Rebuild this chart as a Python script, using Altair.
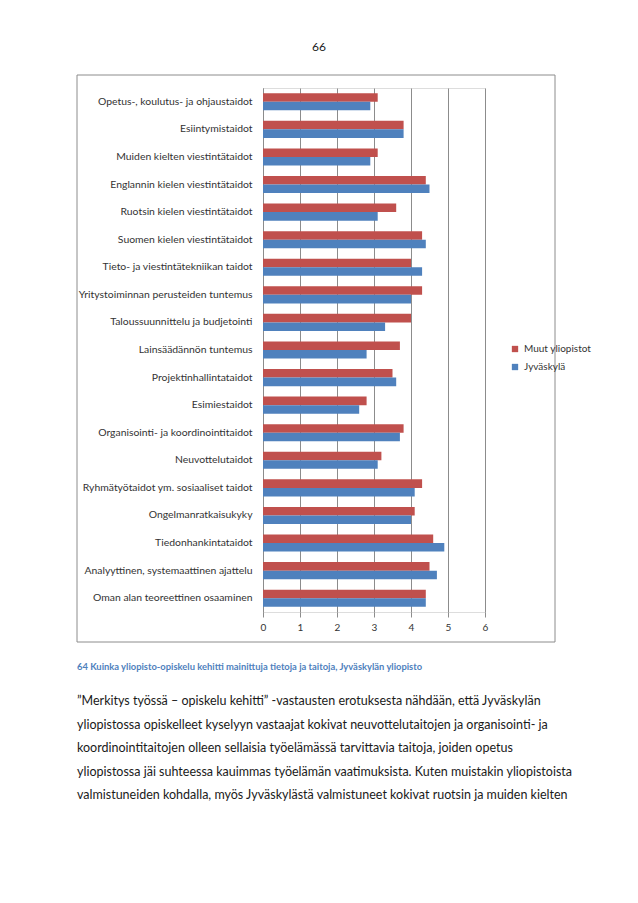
import altair as alt
import pandas as pd

categories = [
    "Opetus-, koulutus- ja ohjaustaidot",
    "Esiintymistaidot",
    "Muiden kielten viestintätaidot",
    "Englannin kielen viestintätaidot",
    "Ruotsin kielen viestintätaidot",
    "Suomen kielen viestintätaidot",
    "Tieto- ja viestintätekniikan taidot",
    "Yritystoiminnan perusteiden tuntemus",
    "Taloussuunnittelu ja budjetointi",
    "Lainsäädännön tuntemus",
    "Projektinhallintataidot",
    "Esimiestaidot",
    "Organisointi- ja koordinointitaidot",
    "Neuvottelutaidot",
    "Ryhmätyötaidot ym. sosiaaliset taidot",
    "Ongelmanratkaisukyky",
    "Tiedonhankintataidot",
    "Analyyttinen, systemaattinen ajattelu",
    "Oman alan teoreettinen osaaminen",
]
muut = [3.1, 3.8, 3.1, 4.4, 3.6, 4.3, 4.0, 4.3, 4.0, 3.7, 3.5, 2.8, 3.8, 3.2, 4.3, 4.1, 4.6, 4.5, 4.4]
jyvaskyla = [2.9, 3.8, 2.9, 4.5, 3.1, 4.4, 4.3, 4.0, 3.3, 2.8, 3.6, 2.6, 3.7, 3.1, 4.1, 4.0, 4.9, 4.7, 4.4]
series = ["Muut yliopistot", "Jyväskylä"]
colors = ["#C0504D", "#4F81BD"]
x_ticks = [0, 1, 2, 3, 4, 5, 6]

page_number = "66"
caption = "64 Kuinka yliopisto-opiskelu kehitti mainittuja tietoja ja taitoja, Jyväskylän yliopisto"
body_lines = [
    "”Merkitys työssä – opiskelu kehitti” -vastausten erotuksesta nähdään, että Jyväskylän",
    "yliopistossa opiskelleet kyselyyn vastaajat kokivat neuvottelutaitojen ja organisointi- ja",
    "koordinointitaitojen olleen sellaisia työelämässä tarvittavia taitoja, joiden opetus",
    "yliopistossa jäi suhteessa kauimmas työelämän vaatimuksista. Kuten muistakin yliopistoista",
    "valmistuneiden kohdalla, myös Jyväskylästä valmistuneet kokivat ruotsin ja muiden kielten",
]

rows = []
for c, m, j in zip(categories, muut, jyvaskyla):
    rows.append({"taito": c, "sarja": series[0], "arvo": m})
    rows.append({"taito": c, "sarja": series[1], "arvo": j})
df = pd.DataFrame(rows)

FONT = "Lato"
W, H = 222, 524

bars = alt.Chart(df).mark_bar().encode(
    x=alt.X("arvo:Q", scale=alt.Scale(domain=[0, 6], nice=False),
            axis=alt.Axis(values=x_ticks, title=None, domain=False, grid=True,
                          gridColor="#8c8c8c", tickColor="#8c8c8c", tickSize=5,
                          labelFont=FONT, labelFontSize=10, labelColor="#333",
                          labelPadding=5, labelFlush=False)),
    y=alt.Y("taito:N", sort=categories,
            scale=alt.Scale(paddingInner=0.38, paddingOuter=0.19),
            axis=alt.Axis(title=None, ticks=False, domainColor="#8c8c8c",
                          labelFont=FONT, labelFontSize=10.4, labelColor="#333",
                          labelPadding=11, labelLimit=250)),
    yOffset=alt.YOffset("sarja:N", sort=series),
    color=alt.Color("sarja:N", sort=series,
                    scale=alt.Scale(domain=series, range=colors),
                    legend=alt.Legend(title=None, orient="none", legendX=247, legendY=256,
                                      symbolType="square", symbolSize=40, symbolStrokeWidth=0,
                                      labelFont=FONT, labelFontSize=10, labelColor="#333",
                                      rowPadding=8)),
)

one = alt.Data(values=[{"a": 1}])

frame = alt.Chart(one).mark_rect(fill=None, stroke="#8c8c8c", strokeWidth=1).encode(
    x=alt.value(-186), x2=alt.value(292), y=alt.value(-13), y2=alt.value(554))

def txt(text, x, y, size, **kw):
    return alt.Chart(one).mark_text(text=text, font=FONT, fontSize=size,
                                    align=kw.pop("align", "left"), baseline="middle", **kw).encode(
        x=alt.value(x), y=alt.value(y))

layers = [frame, bars,
          txt(page_number, 56, -41, 12, align="center", color="#222"),
          txt(caption, -186, 579, 9.4, color="#4F81BD", fontWeight="bold")]
for i, line in enumerate(body_lines):
    layers.append(txt(line, -186, 613 + i * 23.6, 12.5, color="#1a1a1a"))

chart = alt.layer(*layers).properties(
    width=W, height=H,
    padding={"left": 255, "top": 80, "right": 130, "bottom": 260},
    autosize=alt.AutoSizeParams(type="none"),
).configure_view(stroke=None).configure(background="white")

chart.save("out.html", embed_options={"renderer": "svg", "actions": False})
